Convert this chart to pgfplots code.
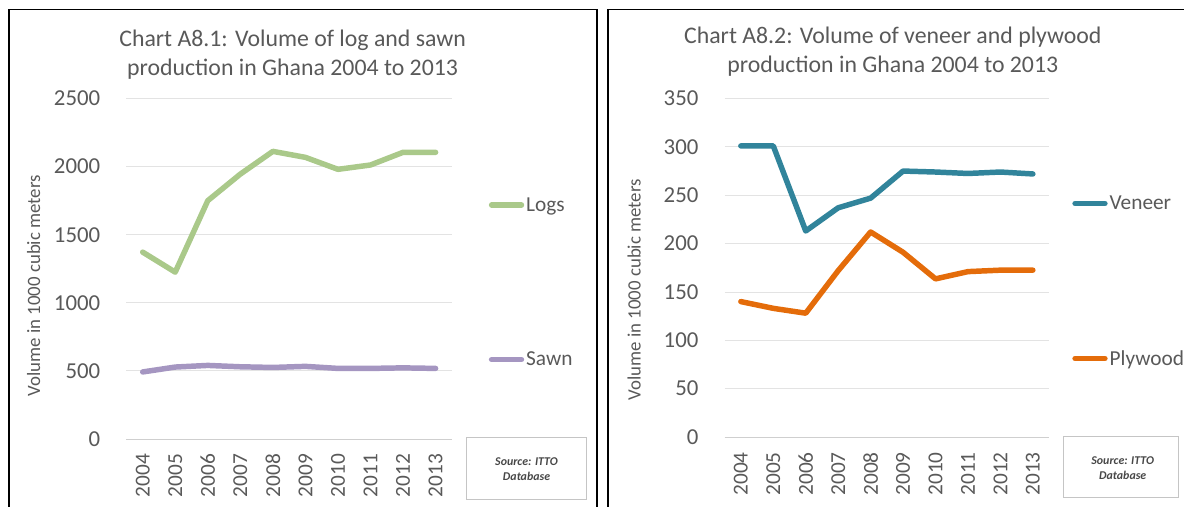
\documentclass[border=0pt]{standalone}
\usepackage{pgfplots}
\pgfplotsset{compat=1.18}
\usepackage{fontspec}
\setmainfont{Carlito}
\definecolor{txt}{HTML}{595959}
\definecolor{gridc}{HTML}{E3E3E3}
\definecolor{logs}{HTML}{AAC98A}
\definecolor{sawn}{HTML}{A596C1}
\definecolor{veneer}{HTML}{31849B}
\definecolor{plywood}{HTML}{E46C0A}
\pgfplotsset{
  myaxis/.style={
    scale only axis,
    /pgf/number format/assume math mode=true,
    /pgf/number format/1000 sep={},
    xmin=-0.5, xmax=9.5,
    xtick={0,...,9},
    xticklabels={2004,2005,2006,2007,2008,2009,2010,2011,2012,2013},
    extra x ticks={-0.5,0.5,...,9.5},
    extra x tick labels={},
    extra x tick style={grid=none, major tick length=7bp, tick align=outside, tick style={draw=gridc!80!gray, line width=0.8bp}},
    xtick style={draw=none},
    ytick style={draw=none},
    axis x line=bottom,
    axis y line=left,
    x axis line style={draw=gridc!80!gray, line width=0.8bp, -},
    y axis line style={draw=none},
    ymajorgrids,
    grid style={draw=gridc, line width=0.8bp},
    yticklabel style={font=\fontsize{23}{23}\selectfont, text=txt, anchor=east, inner sep=0pt, xshift=-24bp},
    xticklabel style={font=\fontsize{21.5}{21.5}\selectfont, text=txt, rotate=90, anchor=east, inner sep=0pt, xshift=-13bp},
    every axis plot/.append style={line width=5.5bp, line join=round, line cap=round, mark=none},
    legend style={draw=none, fill=none, font=\fontsize{21.5}{21.5}\selectfont, text=txt, anchor=west, row sep=136bp, inner sep=0pt, cells={anchor=west}},
    legend image code/.code={\draw[#1, line cap=round] (0bp,0bp) -- (30bp,0bp);},
    ylabel style={font=\fontsize{19}{19}\selectfont, text=txt, anchor=center},
  }
}
\begin{document}
\begin{tikzpicture}[x=1bp,y=1bp]
\path (0bp,0bp) rectangle (1186bp,507bp);
% frames
\draw[line width=1.6bp, black] (9bp,-2bp) -- (9bp,497.5bp) -- (599.7bp,497.5bp) -- (599.7bp,-2bp);
\draw[line width=1.6bp, black] (610.7bp,-2bp) -- (610.7bp,497.5bp) -- (1190bp,497.5bp);
% left chart
\begin{axis}[myaxis, at={(127bp,66bp)}, anchor=south west, width=327bp, height=342bp,
  ymin=0, ymax=2500, ytick={0,500,...,2500},
  ylabel={Volume in 1000 cubic meters},
  ylabel style={at={(axis description cs:-0.285,0.45)}},
  legend style={at={(axis description cs:1.113,0.46)}}]
\addplot[color=logs] coordinates {(0,1372) (1,1225) (2,1750) (3,1945) (4,2112) (5,2068) (6,1980) (7,2012) (8,2105) (9,2105)};
\addlegendentry{Logs}
\addplot[color=sawn] coordinates {(0,492) (1,528) (2,540) (3,530) (4,525) (5,533) (6,518) (7,518) (8,522) (9,518)};
\addlegendentry{Sawn}
\end{axis}
% right chart
\begin{axis}[myaxis, at={(728bp,68bp)}, anchor=south west, width=326bp, height=340bp,
  ymin=0, ymax=350, ytick={0,50,...,350},
  ylabel={Volume in 1000 cubic meters},
  ylabel style={at={(axis description cs:-0.279,0.435)}},
  legend style={at={(axis description cs:1.071,0.46)}}]
\addplot[color=veneer] coordinates {(0,301) (1,301) (2,213) (3,237) (4,247) (5,275) (6,274) (7,272.5) (8,274) (9,272)};
\addlegendentry{Veneer}
\addplot[color=plywood] coordinates {(0,140) (1,133) (2,128) (3,172) (4,212) (5,191) (6,163.5) (7,171) (8,172.5) (9,172.5)};
\addlegendentry{Plywood}
\end{axis}
% titles
\node[text=txt, font=\fontsize{24}{30}\selectfont, align=center] at (294bp,452bp) {Chart A8.1: Volume of log and sawn\\production in Ghana 2004 to 2013};
\node[text=txt, font=\fontsize{24}{29}\selectfont, align=center] at (897bp,455bp) {Chart A8.2: Volume of veneer and plywood\\production in Ghana 2004 to 2013};
% source boxes
\draw[draw=gridc!70!gray, line width=1bp] (469bp,5bp) rectangle (589bp,67bp);
\node[font=\fontsize{12}{15}\bfseries\itshape\selectfont, text=txt!80!black, align=center] at (529bp,36bp) {Source: ITTO\\Database};
\draw[draw=gridc!70!gray, line width=1bp] (1068bp,7bp) rectangle (1184bp,68bp);
\node[font=\fontsize{12}{15}\bfseries\itshape\selectfont, text=txt!80!black, align=center] at (1128bp,37bp) {Source: ITTO\\Database};
\end{tikzpicture}
\end{document}
